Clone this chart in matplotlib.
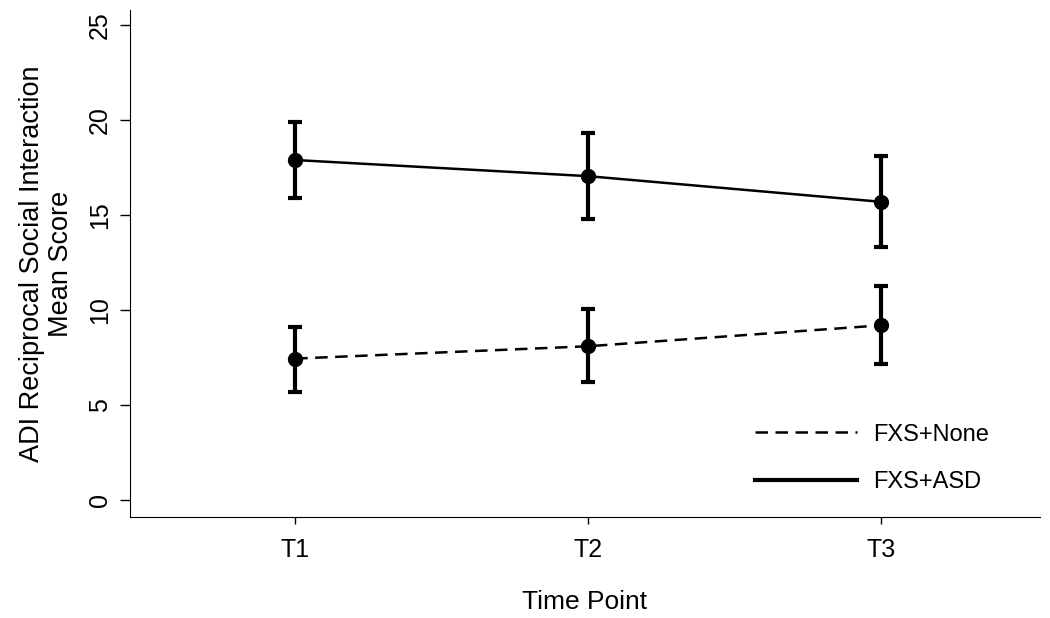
import matplotlib.pyplot as plt
from matplotlib.lines import Line2D

plt.rcParams['font.family'] = ['Liberation Sans', 'DejaVu Sans']

time_points = ["T1", "T2", "T3"]
x_pos = [1, 2, 3]

# FXS+ASD
asd_mean = [17.9, 17.05, 15.7]
asd_low = [15.9, 14.8, 13.3]
asd_high = [19.9, 19.3, 18.1]

# FXS+None
none_mean = [7.45, 8.1, 9.2]
none_low = [5.7, 6.2, 7.15]
none_high = [9.1, 10.05, 11.25]


def err(mean, low, high):
    return [[m - l for m, l in zip(mean, low)], [h - m for m, h in zip(mean, high)]]


fig = plt.figure(figsize=(10.5, 6.18), dpi=100)
ax = fig.add_axes([0.124, 0.163, 0.866, 0.821])

ax.errorbar(x_pos, none_mean, yerr=err(none_mean, none_low, none_high),
            color='black', linestyle=(0, (5, 3)), linewidth=1.8, marker='o',
            markersize=10, elinewidth=3, capsize=5, capthick=3, label='FXS+None')
ax.errorbar(x_pos, asd_mean, yerr=err(asd_mean, asd_low, asd_high),
            color='black', linestyle='-', linewidth=1.8, marker='o',
            markersize=10, elinewidth=3, capsize=5, capthick=3, label='FXS+ASD')

ax.set_xlim(0.437, 3.54)
ax.set_ylim(-0.9, 25.8)
ax.set_xticks(x_pos)
ax.set_xticklabels(time_points)
ax.set_yticks([0, 5, 10, 15, 20, 25])
ax.tick_params(axis='y', labelrotation=90, labelsize=18, length=7, width=1, pad=6)
ax.tick_params(axis='x', labelsize=18, length=5, width=1, pad=10)
for lab in ax.get_yticklabels():
    lab.set_va('center')

ax.spines['top'].set_visible(False)
ax.spines['right'].set_visible(False)

ax.set_xlabel("Time Point", fontsize=19, labelpad=20)
ax.set_ylabel("ADI Reciprocal Social Interaction\nMean Score", fontsize=19.5,
              labelpad=10, linespacing=1.15)

labels = ['FXS+None', 'FXS+ASD']
h = [Line2D([], [], color='black', linestyle=(0, (5, 3)), linewidth=1.8),
     Line2D([], [], color='black', linestyle='-', linewidth=3)]
ax.legend(h, labels, loc='lower right', bbox_to_anchor=(0.968, 0.005), frameon=False,
          fontsize=17, handlelength=4.3, handletextpad=0.7, labelspacing=1.1)

plt.savefig("out.png", dpi=100)
